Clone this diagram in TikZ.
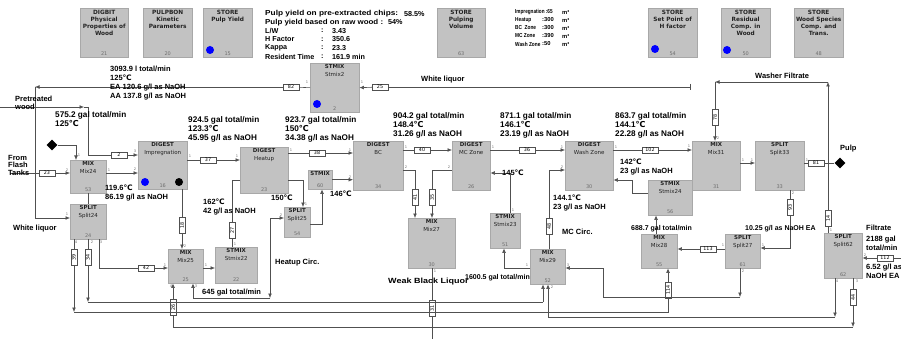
\documentclass[tikz,border=0pt]{standalone}
\usepackage{fontspec}
\setmainfont{Liberation Sans}
\newfontfamily\dejavu{DejaVu Sans}
\usetikzlibrary{arrows.meta,shapes.geometric,calc}
\definecolor{boxgray}{RGB}{194,194,194}
\definecolor{boxedge}{RGB}{168,168,168}
\definecolor{linecol}{RGB}{80,80,80}
\definecolor{numgray}{RGB}{110,110,110}
\definecolor{titlecol}{RGB}{35,35,35}
\definecolor{dotblue}{RGB}{0,0,255}
\newcommand\dc{{\dejavu ℃}}
\newcommand\myunit[7]{%
  \node[ubox, minimum width={(#4)-(#2)}, minimum height={(#5)-(#3)}, anchor=north west] (#1) at (#2,#3) {};
  \node[utitle, anchor=north] (#1t) at ([yshift=-1.5pt]#1.north) {#6};
  \node[unum, anchor=south] (#1n) at ([yshift=1.5pt]#1.south) {#7};}
\newcommand\mystore[7]{%
  \node[ubox, minimum width={(#4)-(#2)}, minimum height={(#5)-(#3)}, anchor=north west] (#1) at (#2,#3) {};
  \node[stitle, anchor=north] (#1t) at ([yshift=-2pt]#1.north) {#6};
  \node[unum, anchor=south] (#1n) at ([yshift=2pt]#1.south) {#7};}
\begin{document}
\begin{tikzpicture}[x=1pt,y=-1pt,
  ubox/.style={rectangle, fill=boxgray, draw=boxedge, line width=0.4pt, inner sep=0},
  utitle/.style={font=\dejavu\fontsize{5.5}{7.5}\selectfont, align=center, inner sep=0, text=titlecol},
  stitle/.style={font=\dejavu\bfseries\fontsize{5.8}{7}\selectfont, align=center, inner sep=0, text=titlecol},
  unum/.style={font=\dejavu\fontsize{5}{6}\selectfont, text=numgray, inner sep=0},
  port/.style={font=\dejavu\fontsize{3.6}{4}\selectfont, text=numgray, inner sep=0},
  slab/.style={rectangle, draw=linecol, fill=white, line width=0.4pt, font=\dejavu\fontsize{4.8}{5}\selectfont, inner sep=0, minimum width=16, minimum height=6.5},
  vlab/.style={slab, rotate=90},
  line/.style={draw=linecol, line width=0.6pt},
  arr/.style={line, -{Latex[length=4.5pt,width=3.8pt]}},
  dat/.style={font=\bfseries\fontsize{7.5}{9}\selectfont, align=left, inner sep=0, anchor=north west},
  datL/.style={dat, font=\bfseries\fontsize{8.2}{9}\selectfont},
  datS/.style={dat, font=\bfseries\fontsize{7}{9}\selectfont},
  tb/.style={font=\bfseries\fontsize{7.2}{8}\selectfont, inner sep=0, anchor=west},
  vb/.style={font=\bfseries\fontsize{5.8}{7}\selectfont, inner sep=0, anchor=west},
  bdot/.style={circle, fill=dotblue, minimum size=8, inner sep=0},
  kdot/.style={circle, fill=black, minimum size=8, inner sep=0},
  dia/.style={diamond, fill=black, minimum size=11, inner sep=0}]
\fill[white] (0,0) rectangle (901,339);
\useasboundingbox (0,0) rectangle (901,339);

% ---------- top store boxes ----------
\mystore{sA}{80}{8}{128}{57}{DIGBIT\\Physical\\Properties of\\Wood}{21}
\mystore{sB}{143}{8}{192}{57}{PULPBON\\Kinetic\\Parameters}{20}
\mystore{sC}{203}{8}{252}{57}{STORE\\Pulp Yield}{15}
\node[bdot] (sCd) at (210,50) {};
\mystore{sD}{437}{8}{485}{57}{STORE\\Pulping\\Volume}{63}
\mystore{sE}{648}{8}{697}{57}{STORE\\Set Point of\\H factor}{54}
\node[bdot] (sEd) at (655,49) {};
\mystore{sF}{721}{8}{770}{57}{STORE\\Residual\\Comp. in\\Wood}{50}
\node[bdot] (sFd) at (727,50) {};
\mystore{sG}{794}{8}{843}{57}{STORE\\Wood Species\\Comp. and\\Trans.}{48}

% ---------- text blocks ----------
\node[tb] (py1) at (265,14) {\scalebox{1.15}[1]{Pulp yield on pre-extracted chips:}};
\node[tb] (py1v) at (404,14) {58.5\%};
\node[tb] (py2) at (265,22.5) {\scalebox{1.1}[1]{Pulp yield based on raw wood :}};
\node[tb] (py2v) at (388,22.5) {54\%};
\node[tb] (py3) at (265,31) {L/W};
\node[tb] (py4) at (265,39.5) {H Factor};
\node[tb] (py5) at (265,48) {Kappa};
\node[tb] (py6) at (265,56.5) {Resident Time};
\node[tb] (py3c) at (321,31) {:};
\node[tb] (py4c) at (321,39.5) {:};
\node[tb] (py5c) at (321,48) {:};
\node[tb] (py6c) at (321,56.5) {:};
\node[tb] (py3v) at (332,31) {3.43};
\node[tb] (py4v) at (332,39.5) {350.6};
\node[tb] (py5v) at (332,48) {23.3};
\node[tb] (py6v) at (332,56.5) {161.9 min};

\node[vb] (v1) at (515,12) {\scalebox{0.8}[1]{Impregnation :65}};
\node[vb] (v2) at (515,20) {\scalebox{0.82}[1]{Heatup}};
\node[vb] (v3) at (515,28) {\scalebox{0.82}[1]{BC\ \ Zone}};
\node[vb] (v4) at (515,36) {\scalebox{0.82}[1]{MC Zone}};
\node[vb] (v5) at (515,44) {\scalebox{0.82}[1]{Wash Zone}};
\node[vb] (v2v) at (542,20) {:300};
\node[vb] (v3v) at (542,28) {:300};
\node[vb] (v4v) at (542,36) {:390};
\node[vb] (v5v) at (542,44) {:50};
\node[vb] (v1m) at (562,12) {m³};
\node[vb] (v2m) at (562,20) {m³};
\node[vb] (v3m) at (562,28) {m³};
\node[vb] (v4m) at (562,36) {m³};
\node[vb] (v5m) at (562,44) {m³};

% ---------- process units ----------
\myunit{stmix2}{310}{63}{359}{112}{\textbf{STMIX}\\Stmix2}{2}
\node[bdot] (stmix2d) at (317,104) {};
\myunit{mix24}{70}{160}{106}{193}{\textbf{MIX}\\Mix24}{53}
\myunit{split24}{70}{204}{106}{239}{\textbf{SPLIT}\\Split24}{24}
\myunit{dimp}{138}{141}{187}{189}{\textbf{DIGEST}\\Impregnation}{16}
\node[bdot] (dimpd) at (145,182) {};
\node[kdot] (dimpk) at (179,182) {};
\myunit{heat}{240}{147}{288}{193}{\textbf{DIGEST}\\Heatup}{23}
\myunit{split25}{284}{207}{310}{237}{\textbf{SPLIT}\\Split25}{54}
\myunit{st60}{308}{170}{332}{189}{\textbf{STMIX}}{60}
\myunit{bc}{353}{141}{403}{190}{\textbf{DIGEST}\\BC}{34}
\myunit{mc}{452}{141}{490}{190}{\textbf{DIGEST}\\MC Zone}{26}
\myunit{wash}{565}{141}{613}{190}{\textbf{DIGEST}\\Wash Zone}{30}
\myunit{stmix24}{648}{180}{692}{215}{\textbf{STMIX}\\Stmix24}{56}
\myunit{mix31}{692}{141}{740}{190}{\textbf{MIX}\\Mix31}{31}
\myunit{split33}{755}{141}{804}{190}{\textbf{SPLIT}\\Split33}{33}
\myunit{mix27}{408}{218}{455}{268}{\textbf{MIX}\\Mix27}{30}
\myunit{stmix23}{490}{213}{520}{248}{\textbf{STMIX}\\Stmix23}{51}
\myunit{mix29}{530}{249}{565}{284}{\textbf{MIX}\\Mix29}{52}
\myunit{mix25}{168}{249}{203}{283}{\textbf{MIX}\\Mix25}{25}
\myunit{stmix22}{215}{247}{257}{283}{\textbf{STMIX}\\Stmix22}{22}
\myunit{mix28}{641}{234}{677}{268}{\textbf{MIX}\\Mix28}{55}
\myunit{split27}{725}{234}{760}{268}{\textbf{SPLIT}\\Split27}{61}
\myunit{split62}{824}{233}{862}{278}{\textbf{SPLIT}\\Split62}{62}

\node[dia] (dia1) at (52,145) {};
\node[dia] (dia2) at (840,163) {};

% ---------- port numbers ----------
\node[port] (p1) at (307,82) {1};
\node[port] (p2) at (362,82) {1};
\node[port] (p3) at (79,155) {1};
\node[port] (p4) at (67,170) {2};
\node[port] (p5) at (109,170) {1};
\node[port] (p6) at (67,214) {1};
\node[port] (p7) at (76,242) {4};
\node[port] (p8) at (92,242) {2};
\node[port] (p9) at (101,242) {3};
\node[port] (p10) at (135,151) {3};
\node[port] (p11) at (135,169) {2};
\node[port] (p12) at (190,156) {1};
\node[port] (p13) at (237,156) {1};
\node[port] (p14) at (291,150) {1};
\node[port] (p15) at (350,150) {1};
\node[port] (p16) at (350,177) {2};
\node[port] (p17) at (406,147) {1};
\node[port] (p18) at (406,167) {2};
\node[port] (p19) at (449,167) {2};
\node[port] (p20) at (493,147) {1};
\node[port] (p21) at (562,147) {1};
\node[port] (p22) at (562,167) {2};
\node[port] (p23) at (616,147) {1};
\node[port] (p24) at (689,146) {1};
\node[port] (p25) at (718,138) {2};
\node[port] (p26) at (743,160) {1};
\node[port] (p27) at (752,160) {1};
\node[port] (p28) at (807,160) {1};
\node[port] (p29) at (793,193) {2};
\node[port] (p30) at (185,246) {2};
\node[port] (p31) at (165,265) {1};
\node[port] (p32) at (206,265) {1};
\node[port] (p33) at (171,286) {4};
\node[port] (p34) at (196,286) {3};
\node[port] (p35) at (527,265) {1};
\node[port] (p36) at (568,265) {3};
\node[port] (p37) at (552,287) {2};
\node[port] (p38) at (723,245) {1};
\node[port] (p39) at (763,245) {1};
\node[port] (p40) at (743,271) {2};
\node[port] (p41) at (831,230) {1};
\node[port] (p42) at (865,255) {2};
\node[port] (p43) at (837,281) {4};
\node[port] (p44) at (857,281) {3};
\node[port] (p45) at (235,244) {1};
\node[port] (p46) at (513,210) {1};
\node[port] (p47) at (435,271) {1};
\node[port] (p48) at (281,215) {2};
\node[port] (p49) at (306,204) {1};

% ---------- stream labels ----------
\node[slab] (l82) at (291,87) {82};
\node[slab] (l25) at (380,87) {25};
\node[slab] (l23) at (47,173) {23};
\node[slab] (l2) at (119,155) {2};
\node[slab] (l37) at (208,160) {37};
\node[slab] (l38) at (317,153) {38};
\node[slab] (l40) at (422,150) {40};
\node[slab] (l36) at (527,150) {36};
\node[slab] (l102) at (650,150) {102};
\node[slab] (l81) at (816,163) {81};
\node[slab] (l42) at (146,268) {42};
\node[slab] (l113) at (708,249) {113};
\node[slab] (l112) at (885,258) {112};
\node[vlab] (l18) at (182,225) {18};
\node[vlab] (l27) at (232,230) {27};
\node[vlab] (l41) at (415,197) {41};
\node[vlab] (l35) at (432,197) {35};
\node[vlab] (l48) at (549,226) {48};
\node[vlab] (l78) at (715,117) {78};
\node[vlab] (l93) at (790,207) {93};
\node[vlab] (l14) at (828,218) {14};
\node[vlab] (l39) at (74,257) {39};
\node[vlab] (l34) at (88,257) {34};
\node[vlab] (l26) at (173,307) {26};
\node[vlab] (l31) at (432,308) {31};
\node[vlab] (l44) at (853,297) {44};
\node[vlab] (l114) at (668,290) {114};

% ---------- free ends / corners ----------
\coordinate (wlS) at (690,87);
\coordinate (wlC) at (35,87);
\coordinate (pw) at (0,107);
\coordinate (pwA) at (84,107);
\coordinate (pwC) at (88,107);
\coordinate (ff) at (10,173);
\coordinate (hc1) at (270,218);
\coordinate (hc2) at (270,298);
\coordinate (b1) at (88,302);
\coordinate (b1e) at (543,302);
\coordinate (b2) at (74,312);
\coordinate (b2e) at (668,312);
\coordinate (b3) at (835,317);
\coordinate (b3e) at (548,317);
\coordinate (b4) at (853,327);
\coordinate (b4e) at (173,327);
\coordinate (wbl) at (432,339);
\coordinate (sp27a) at (740,297);
\coordinate (sp27b) at (603,297);
\coordinate (sp27c) at (603,268);
\coordinate (wf1) at (828,82);
\coordinate (wf2) at (715,82);
\coordinate (fil) at (901,258);

% ---------- connectors ----------
\draw[line] ([yshift=3pt]wlS) -- ([yshift=-3pt]wlS);
\draw[line] (wlS) -- (l25);
\draw[arr] (l25) -- (stmix2.east);
\draw[line] (stmix2.west) -- (l82);
\draw[arr] (l82) -- (wlC);
\draw[arr] (wlC) |- (split24.west |- 0,218);

\draw[arr] (pw) -- (pwA);
\draw[line] (pwA) -- (pwC);
\draw[line] (pwC) |- (l2);
\draw[arr] (l2) -- (dimp.west |- l2);

\draw[arr] (dia1) -| (mix24.north -| 76,0);
\draw[line] (ff) -- (l23);
\draw[arr] (l23) -- (mix24.west |- l23);
\draw[arr] (mix24.east |- 0,173) -- (dimp.west |- 0,173);
\draw[line] (mix24.south) -- (split24.north);

\draw[line] (dimp.east |- l37) -- (l37);
\draw[arr] (l37) -- (heat.west |- l37);
\draw[line] (dimp.south -| l18) -- (l18);
\draw[arr] (l18) -- (mix25.north -| l18);

\draw[line] (heat.east |- l38) -- (l38);
\draw[arr] (l38) -- (bc.west |- l38);
\draw[line] (heat.west |- 0,180) -| (l27);
\draw[line] (l27) -- (stmix22.north -| l27);
\draw[arr] (heat.east |- 0,180) -| (split25.north -| 303,0);
\draw[arr] (split25.east |- 0,224) -| (st60.south -| 322,0);
\draw[arr] (st60.east) -- (bc.west |- st60.east);
\draw[arr] (hc1) -- (split25.west |- hc1);
\draw[arr] (hc1) -- (hc2);
\draw[arr] (hc2) -| (mix25.south -| 193,0);
\draw[arr] (mix25.east |- 0,268) -- (stmix22.west |- 0,268);

\draw[line] (split24.south -| 99,0) |- (l42);
\draw[arr] (l42) -- (mix25.west |- l42);
\draw[line] (split24.south -| l34) -- (l34);
\draw[arr] (l34) -- (b1);
\draw[line] (b1) -- (b1e);
\draw[arr] (b1e) -- (mix29.south -| b1e);
\draw[line] (split24.south -| l39) -- (l39);
\draw[arr] (l39) -- (b2);
\draw[line] (b2) -- (b2e) -- (l114);
\draw[arr] (l114) -- (mix28.south -| l114);
\draw[arr] (split62.south -| b3) -- (b3);
\draw[line] (b3) -- (b3e);
\draw[arr] (b3e) -- (mix29.south -| b3e);
\draw[line] (split62.south -| l44) -- (l44);
\draw[arr] (l44) -- (b4);
\draw[line] (b4) -- (b4e) -- (l26);
\draw[arr] (l26) -- (mix25.south -| l26);

\draw[line] (bc.east |- l40) -- (l40);
\draw[arr] (l40) -- (mc.west |- l40);
\draw[line] (bc.east |- 0,170) -| (l41);
\draw[arr] (l41) -- (mix27.north -| l41);
\draw[line] (mc.west |- 0,170) -| (l35);
\draw[arr] (l35) -- (mix27.north -| l35);
\draw[line] (mix27.south -| l31) -- (l31);
\draw[line] (l31) -- (wbl);

\draw[line] (mc.east |- l36) -- (l36);
\draw[arr] (l36) -- (wash.west |- l36);
\draw[arr] (stmix23.north -| 510,0) |- (mc.east |- 0,173);
\draw[arr] (mix29.west |- 0,268) -| (stmix23.south -| 504,0);
\draw[line] (mix29.north -| l48) -- (l48);
\draw[arr] (l48) |- (wash.west |- 0,170);
\draw[arr] (stmix24.west |- 0,193) -| (632,180) -- (wash.east |- 0,180);
\draw[arr] (mix28.north -| 656,0) -- (stmix24.south -| 656,0);

\draw[line] (wash.east |- l102) -- (l102);
\draw[arr] (l102) -- (mix31.west |- l102);
\draw[arr] (mix31.east |- 0,163) -- (split33.west |- 0,163);
\draw[line] (split33.east |- l81) -- (l81);
\draw[line] (l81) -- (dia2);
\draw[line] (split33.south -| l93) -- (l93);
\draw[arr] (l93) |- (split27.east |- 0,248);
\draw[line] (split27.west |- l113) -- (l113);
\draw[arr] (l113) -- (mix28.east |- l113);
\draw[arr] (split27.south -| sp27a) -- (sp27a);
\draw[line] (sp27a) -- (sp27b) -- (sp27c);
\draw[arr] (sp27c) -- (mix29.east |- sp27c);

\draw[line] (split62.north -| l14) -- (l14);
\draw[arr] (l14) -- (wf1);
\draw[arr] (wf1) -- (wf2);
\draw[line] (wf2) -- (l78);
\draw[arr] (l78) -- (mix31.north -| l78);
\draw[line] (fil) -- (l112);
\draw[arr] (l112) -- (split62.east |- l112);

% ---------- texts ----------
\node[dat] (tPre) at (15,96) {Pretreated\\[-1.5pt]wood};
\node[dat] (tFrom) at (8,155) {From\\[-1.5pt]Flash\\[-1.5pt]Tanks};
\node[dat] (tWL1) at (13,225) {White liquor};
\node[dat] (tWL2) at (421,76) {White liquor};
\node[dat] (tWF) at (755,73) {Washer Filtrate};
\node[dat] (t3093) at (110,66) {3093.9 l total/min\\125\dc\\EA 120.6 g/l as NaOH\\AA 137.8 g/l as NaOH};
\node[datL] (t575) at (55,111) {575.2 gal total/min\\125\dc};
\node[dat] (t119) at (105,185) {119.6\dc\\86.19 g/l as NaOH};
\node[datL] (t924) at (188,116) {924.5 gal total/min\\123.3\dc\\45.95 g/l as NaOH};
\node[dat] (t162) at (203,199) {162\dc\\42 g/l as NaOH};
\node[dat] (t150) at (271,195) {150\dc};
\node[datL] (t923) at (285,116) {923.7 gal total/min\\150\dc\\34.38 g/l as NaOH};
\node[dat] (t146) at (330,191) {146\dc};
\node[dat] (tHC) at (275,259) {Heatup Circ.};
\node[dat] (t645) at (202,289) {645 gal total/min};
\node[datL] (t904) at (393,112) {904.2 gal total/min\\148.4\dc\\31.26 g/l as NaOH};
\node[dat] (tWBL) at (388,278) {\scalebox{1.2}[1]{Weak Black Liquor}};
\node[datL] (t871) at (500,112) {871.1 gal total/min\\146.1\dc\\23.19 g/l as NaOH};
\node[dat] (t145) at (502,170) {145\dc};
\node[dat] (t1441) at (553,195) {144.1\dc\\23 g/l as NaOH};
\node[dat] (tMC) at (562,229) {MC Circ.};
\node[datS] (t1600) at (465,274) {1600.5 gal total/min};
\node[datL] (t863) at (615,112) {863.7 gal total/min\\144.1\dc\\22.28 g/l as NaOH};
\node[dat] (t142) at (620,159) {142\dc\\23 g/l as NaOH};
\node[datS] (t688) at (631,225) {688.7 gal total/min};
\node[datS] (t1025) at (745,225) {10.25 g/l as NaOH EA};
\node[dat] (tPulp) at (840,145) {Pulp};
\node[dat] (tFil) at (866,225) {Filtrate};
\node[dat] (t2188) at (866,236) {2188 gal\\total/min};
\node[dat] (t652) at (866,264) {6.52 g/l as\\NaOH EA};
\end{tikzpicture}
\end{document}
